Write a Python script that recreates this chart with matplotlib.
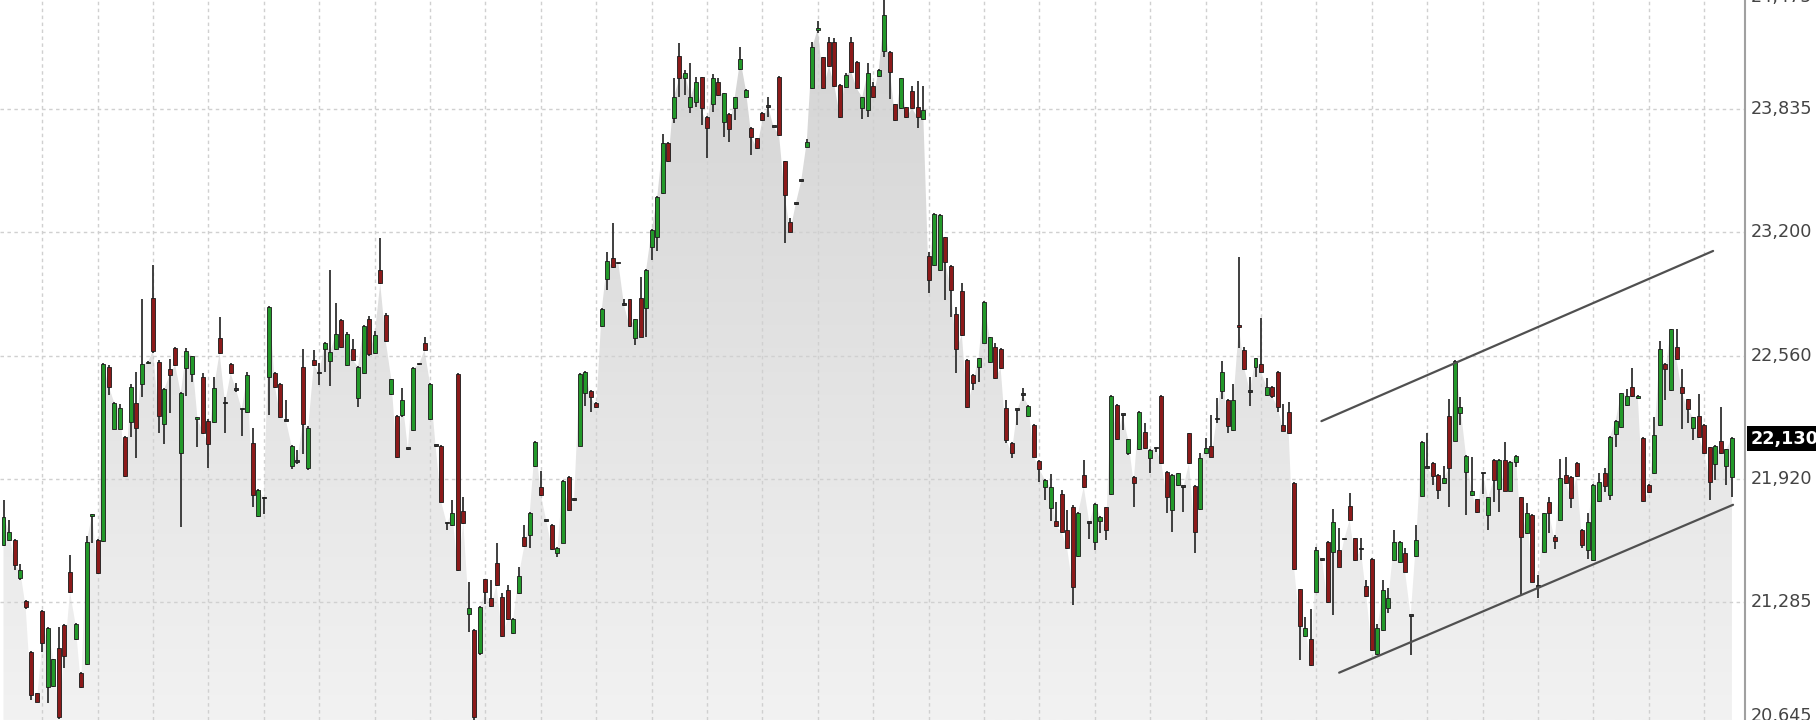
import numpy as np
import matplotlib
matplotlib.use("Agg")
import matplotlib.pyplot as plt
from matplotlib.patches import Polygon
from matplotlib.colors import LinearSegmentedColormap

# ---------------- data (O, H, L, C per session) ----------------
opens = [21580,21605,21605,21407,21291,21027,20812,21240,20846,20850,21045,21165,21442,21093,20915,20963,21730,21605,21600,22503,
22182,22182,22140,22218,22316,22413,22520,22857,22529,22204,22489,22601,22054,22494,22465,22232,22451,22223,22218,22653,
22313,22516,22382,22282,22270,22106,21731,21821,22451,22471,22413,22223,21988,22011,22502,21976,22537,22468,22592,22534,
22597,22744,22511,22597,22339,22471,22748,22575,23003,22773,22361,22249,22252,22076,22175,22515,22628,22232,22092,22092,
21692,21683,22465,21757,21222,21139,21019,21402,21303,21488,21312,21346,21122,21329,21619,21631,21988,21878,21704,21683,
21536,21592,21933,21812,22094,22365,22378,22316,22713,22955,23064,23038,22822,22851,22649,22856,22805,23121,23172,23400,
23662,23788,24113,23995,23845,23875,24001,23797,23863,23978,23771,23811,23840,24042,23901,23740,23685,23818,23849,23745,
24004,23567,23253,23345,23466,23642,23944,24246,24104,24185,24185,23961,23949,24185,24082,23840,23832,23956,24008,24139,
24134,23861,23840,23845,23932,23845,23783,23075,23029,23003,23172,23024,22775,22896,22540,22459,22499,22627,22528,22603,
22597,22287,22109,22278,22356,22247,22200,22016,21881,21769,21705,21843,21660,21778,21522,21942,21695,21596,21705,21774,
21844,22305,22253,22054,21934,22075,22166,22028,22080,22351,21959,21761,21890,21882,22158,21885,21764,22054,22092,22230,
22379,22330,22175,22720,22589,22374,22500,22517,22356,22399,22477,22201,22270,21902,21350,21109,21091,21338,21502,21597,
21545,21554,21609,21783,21614,21557,21367,21506,21015,21140,21252,21502,21493,21540,21212,21523,21833,21980,22006,21942,
21902,22248,22120,22261,21959,21839,21816,21951,21735,22020,21868,22020,21861,22011,21826,21640,21735,21364,21545,21804,
21623,21709,21942,21933,22006,21660,21553,21502,21809,21954,21838,22154,22192,22304,22399,22339,22135,21890,21950,22201,
22516,22382,22603,22399,22334,22183,22247,22201,22085,21999,22120,21988,21933]
highs = [21813,21709,21610,21481,21295,21030,20815,21245,21155,20990,21157,21170,21528,21175,20920,21626,21738,21610,22520,22510,
22320,22310,22145,22413,22477,22851,22530,23029,22535,22390,22541,22605,22370,22598,22560,22240,22468,22230,22448,22758,
22347,22520,22416,22285,22477,22183,21870,21829,22815,22475,22418,22333,22095,22071,22597,22195,22589,22520,22630,23003,
22834,22750,22680,22644,22505,22720,22765,22687,23167,22780,22440,22255,22390,22080,22500,22518,22658,22418,22095,22095,
21695,21812,22470,21826,21390,21145,21265,21405,21398,21588,21329,21372,21200,21467,21683,21750,22118,21964,21707,21688,
21570,21918,21938,21815,22470,22480,22380,22320,22805,23098,23245,23042,22851,22855,22752,22969,23007,23215,23385,23707,
23665,23995,24180,24039,24077,24004,24005,23800,24018,23995,23920,23815,23900,24159,23938,23745,23689,23822,23901,23748,
24008,23570,23271,23348,23469,23680,24185,24294,24108,24208,24203,23965,24025,24208,24086,23900,24073,23978,24045,24420,
24138,23865,23999,23849,23956,23982,23956,23098,23298,23292,23176,23028,22810,22937,22545,22463,22550,22843,22658,22623,
22601,22330,22113,22282,22390,22303,22204,22020,21920,21947,21803,21864,21760,21785,21751,22019,21700,21795,21730,21778,
22355,22309,22257,22131,21938,22274,22210,22076,22084,22355,21963,21946,21955,21886,22162,21889,22054,22132,22253,22339,
22534,22334,22413,23069,22603,22448,22550,22753,22443,22403,22481,22310,22322,21906,21354,21209,21247,21568,21506,21601,
21764,21666,21613,21851,21618,21614,21398,21510,21171,21398,21355,21657,21601,21562,21216,21683,22119,22161,22010,21946,
21989,22334,22538,22344,22044,22037,21820,21955,21830,22024,22024,22115,22015,22044,21830,21795,21739,21424,21748,21830,
21630,22023,22037,21937,22010,21664,21743,21894,21950,21976,22144,22227,22369,22385,22494,22355,22139,21894,22240,22637,
22520,22700,22696,22489,22338,22244,22361,22205,22089,22096,22296,22079,22139]
lows = [21575,21600,21450,21400,21250,20777,20765,21027,20760,20845,20680,20941,21330,21090,20840,20960,21588,21430,21595,22356,
22180,22180,21930,22137,22028,22347,22515,22575,22158,22101,22265,22505,21674,22351,22422,22089,22155,21976,22212,22570,
22158,22465,22370,22143,22265,21778,21725,21740,22252,22395,22235,22220,21971,22000,22050,21970,22505,22408,22477,22402,
22590,22600,22505,22535,22295,22465,22560,22570,22930,22630,22355,22030,22245,22070,22170,22512,22585,22228,22088,21800,
21657,21680,21445,21690,21131,20675,21010,21277,21260,21368,21105,21190,21118,21325,21570,21562,21985,21835,21700,21552,
21519,21588,21757,21809,22090,22299,22270,22288,22709,22900,23015,23034,22818,22709,22615,22654,22658,23055,23103,23395,
23565,23762,23901,23909,23814,23849,23754,23581,23823,23905,23693,23668,23780,24038,23898,23599,23629,23776,23797,23742,
23698,23141,23198,23342,23463,23638,23940,24229,23940,24055,23950,23790,23945,24025,23940,23783,23797,23893,24004,24104,
23887,23776,23836,23790,23836,23737,23779,22886,23025,22999,22848,22761,22471,22660,22288,22382,22425,22623,22524,22438,
22490,22106,22028,22200,22325,22243,22033,21907,21812,21705,21674,21644,21558,21269,21518,21877,21609,21553,21640,21606,
21840,22123,22175,22046,21778,22071,22076,21954,22060,21999,21747,21649,21886,21752,21999,21537,21760,22050,22033,22210,
22334,22161,22171,22598,22487,22299,22451,22473,22352,22339,22270,22168,22154,21450,20984,21105,20954,21334,21498,21282,
21217,21464,21605,21705,21498,21502,21312,21032,21011,21136,21226,21498,21489,21438,21010,21519,21829,21976,21890,21816,
21898,21778,22116,22201,21735,21835,21748,21844,21657,21804,21752,21857,21857,21982,21321,21636,21386,21304,21541,21640,
21557,21705,21898,21769,21933,21562,21505,21498,21805,21856,21812,22088,22188,22300,22347,22335,21805,21851,21946,22197,
22330,22378,22537,22178,22209,22123,22133,22053,21812,21916,22050,21890,21830]
closes = [21726,21649,21476,21450,21257,20803,20768,21070,21148,20988,20690,21005,21338,21169,20846,21597,21735,21436,22515,22399,
22316,22287,21937,22396,22184,22515,22522,22586,22247,22385,22460,22511,22365,22586,22558,22238,22161,22102,22394,22575,
22313,22468,22382,22282,22459,21838,21864,21821,22810,22399,22240,22223,22092,22011,22204,22188,22511,22468,22627,22580,
22672,22606,22672,22540,22502,22713,22568,22666,22934,22635,22437,22037,22330,22076,22494,22515,22589,22413,22092,21804,
21692,21747,21450,21695,21252,20690,21260,21338,21264,21372,21108,21195,21195,21419,21574,21747,22114,21838,21704,21557,
21566,21912,21761,21812,22465,22477,22347,22292,22800,23051,23020,23038,22822,22713,22748,22658,23003,23210,23379,23659,
23569,23897,23995,24021,23897,23978,23840,23737,23995,23909,23918,23731,23897,24094,23935,23693,23633,23780,23849,23745,
23702,23391,23202,23345,23466,23668,24156,24254,23944,24059,23956,23794,24013,24030,23944,23897,24025,23897,24039,24323,
24030,23780,23995,23794,23840,23794,23832,22951,23293,23288,23046,22899,22592,22666,22292,22420,22546,22839,22654,22442,
22494,22123,22057,22278,22356,22299,22037,21971,21916,21878,21678,21648,21562,21363,21747,21881,21695,21791,21726,21660,
22351,22127,22253,22127,21902,22270,22080,22072,22080,22003,21827,21942,21951,21882,22003,21649,22028,22080,22037,22230,
22477,22196,22330,22706,22491,22374,22546,22477,22399,22351,22292,22172,22158,21454,21160,21148,20958,21554,21502,21286,
21700,21468,21609,21709,21502,21557,21316,21036,21148,21347,21304,21597,21597,21442,21212,21606,22115,21980,21937,21864,
21928,21977,22534,22292,22040,21861,21752,21951,21826,21916,22020,21861,22011,22040,21619,21747,21390,21364,21744,21743,
21602,21925,21902,21821,21937,21579,21700,21890,21907,21885,22140,22223,22365,22351,22351,22351,21809,21855,22149,22592,
22489,22696,22541,22368,22282,22240,22137,22057,21907,22092,22054,22075,22135]

# y-axis labels (right side) and last price
tick_values = [20645, 21283.33, 21921.67, 22560, 23198.33, 23836.67, 24475]
tick_labels = ["20,645", "21,285", "21,920", "22,560", "23,200", "23,835", "24,475"]
last_price = 22130
last_label = "22,130"

# hand-drawn channel (candle index, price)
upper_line_x = [237.9, 308.6]
upper_line_y = [22221, 23102]
lower_line_x = [241.1, 312.2]
lower_line_y = [20919, 21788]

# vertical grid every 10 sessions
vgrid_idx = list(range(7, 313, 10))

# ---------------- plotting ----------------
O = np.array(opens, float); H = np.array(highs, float)
L = np.array(lows, float); C = np.array(closes, float)
n = len(C)
idx = np.arange(n)

W, Hh = 1816, 720
fig = plt.figure(figsize=(W / 100, Hh / 100), dpi=100)
ax = fig.add_axes([0, 0, 1745 / W, 1])
x0, x1 = -0.632, 314.36
y0, y1 = 20674, 24401
ax.set_facecolor("white")

# gradient area under closes
verts = [(idx[0], y0)] + list(zip(idx, C)) + [(idx[-1], y0)]
poly = Polygon(verts, closed=True, fc="none", ec="none", transform=ax.transData)
ax.add_patch(poly)
cmap = LinearSegmentedColormap.from_list("g", ["#f2f2f2", "#d3d3d3"])
grad = np.linspace(0, 1, 256).reshape(-1, 1)
im = ax.imshow(grad, extent=[x0, x1, y0, y1], origin="lower", cmap=cmap,
               aspect="auto", zorder=1, interpolation="bilinear")
im.set_clip_path(poly)

# grid
gcol = "#d0d0d0"
for v in tick_values:
    ax.axhline(v, color=gcol, lw=1.0, ls=(0, (2.5, 2.5)), zorder=2)
for gi in vgrid_idx:
    ax.axvline(gi, color=gcol, lw=1.0, ls=(0, (2.5, 2.5)), zorder=2)

# candles
up = C > O
down = C < O
colors = np.where(up, "#23992a", np.where(down, "#8c1a1a", "#333333"))
ax.vlines(idx, L, H, color="#383838", lw=1.35, zorder=3)
body_bottom = np.minimum(O, C)
body_h = np.maximum(np.abs(C - O), 9)
ax.bar(idx, body_h, bottom=body_bottom, width=0.72, color=colors,
       edgecolor="#1a1a1a", linewidth=0.6, zorder=4)

# channel lines
ax.plot(upper_line_x, upper_line_y, color="#505050", lw=1.6, zorder=5, solid_capstyle="round")
ax.plot(lower_line_x, lower_line_y, color="#505050", lw=1.6, zorder=5, solid_capstyle="round")

ax.set_xlim(x0, x1)
ax.set_ylim(y0, y1)
ax.set_xticks([]); ax.set_yticks([])
for s in ["top", "left", "bottom"]:
    ax.spines[s].set_visible(False)
ax.spines["right"].set_color("#a0a0a0")
ax.spines["right"].set_linewidth(1.5)

# right-side labels
fs = 12.7
for v, t in zip(tick_values, tick_labels):
    dy = 0
    if t == "24,475":
        dy = -11
    elif t == "20,645":
        dy = 10
    ax.annotate(t, xy=(1, v), xycoords=("axes fraction", "data"),
                xytext=(6, dy), textcoords="offset pixels",
                ha="left", va="center", fontsize=fs, color="#444444",
                family="DejaVu Sans", annotation_clip=False)

ax.annotate(last_label, xy=(1, last_price), xycoords=("axes fraction", "data"),
            xytext=(6, 0), textcoords="offset pixels", ha="left", va="center",
            fontsize=fs, color="white", fontweight="bold", family="DejaVu Sans",
            bbox=dict(boxstyle="square,pad=0.2", fc="black", ec="none"),
            annotation_clip=False)

fig.savefig("out.png", dpi=100, facecolor="white")
